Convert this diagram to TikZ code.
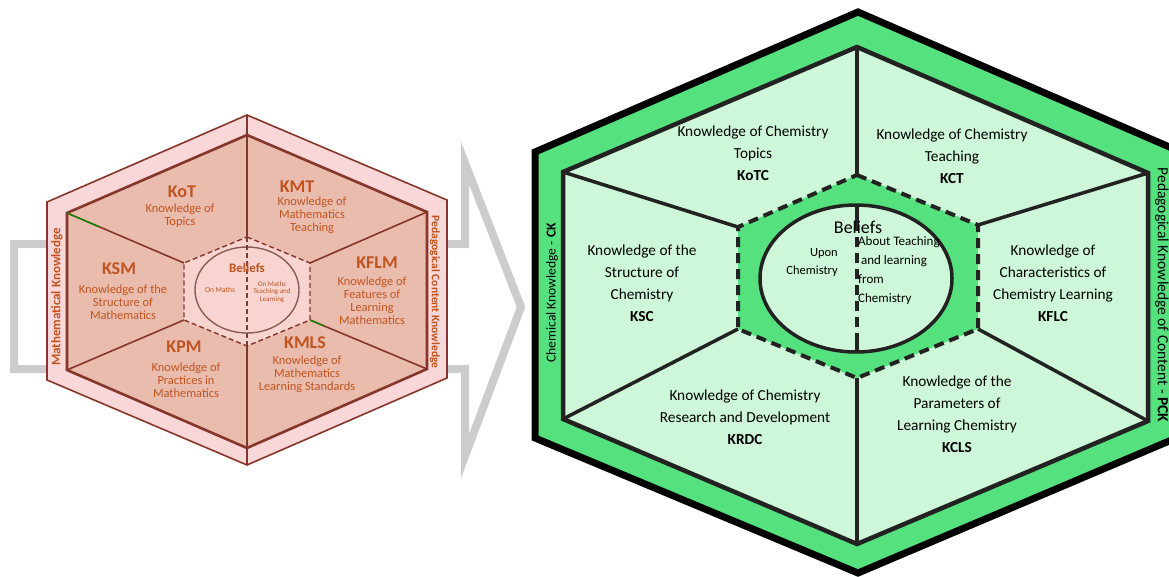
\documentclass[tikz,border=0pt]{standalone}
\usepackage{fontspec}
\usetikzlibrary{calc}
\setmainfont{Carlito}
\definecolor{arrowgray}{RGB}{204,204,204}
\definecolor{pinkband}{RGB}{249,214,216}
\definecolor{salmon}{RGB}{234,188,173}
\definecolor{centerpink}{RGB}{247,212,208}
\definecolor{brownline}{RGB}{133,54,42}
\definecolor{ellline}{RGB}{140,90,80}
\definecolor{ptext}{RGB}{192,84,30}
\definecolor{greenband}{RGB}{86,225,127}
\definecolor{lightgreen}{RGB}{206,246,216}
\definecolor{darkline}{RGB}{34,34,34}
\tikzset{
  ghead/.style={font=\fontsize{15.3}{22}\selectfont, align=center, text=black, inner sep=0pt},
  phead/.style={font=\fontsize{18}{20}\selectfont\bfseries, text=ptext, inner sep=0pt},
  pbody/.style={font=\fontsize{12.4}{13}\selectfont, align=center, text=ptext, inner sep=0pt},
  gspoke/.style={draw=darkline, line width=3.5pt},
  pspoke/.style={draw=brownline, line width=1.6pt},
}
\begin{document}
\begin{tikzpicture}[x=1pt,y=-1pt,line join=miter]
\useasboundingbox (0,0) rectangle (1169,576);
\clip (0,0) rectangle (1169,576);

% ---------- gray arrow ----------
\draw[arrowgray, line width=8pt] (14,244) -- (465,244) -- (465,163) -- (521,307) -- (465,456) -- (465,369) -- (14,369) -- cycle;

% ---------- pink (left) hexagon ----------
\coordinate (pOT) at (247,115);
\coordinate (pOUR) at (447,200);
\coordinate (pOLR) at (447,378);
\coordinate (pOB) at (247,465);
\coordinate (pOLL) at (47,380);
\coordinate (pOUL) at (47,202);
\coordinate (pIT) at (247,135);
\coordinate (pIUR) at (427,212);
\coordinate (pILR) at (427,369);
\coordinate (pIB) at (247,448);
\coordinate (pILL) at (67,370);
\coordinate (pIUL) at (67,213);
\coordinate (pCT) at (247,237);
\coordinate (pCUR) at (310,263);
\coordinate (pCLR) at (310,320);
\coordinate (pCB) at (247,346);
\coordinate (pCLL) at (184,320);
\coordinate (pCUL) at (184,263);

\filldraw[fill=pinkband, draw=brownline, line width=1.6pt] (pOT) -- (pOUR) -- (pOLR) -- (pOB) -- (pOLL) -- (pOUL) -- cycle;
\filldraw[fill=salmon, draw=brownline, line width=2.6pt] (pIT) -- (pIUR) -- (pILR) -- (pIB) -- (pILL) -- (pIUL) -- cycle;
\draw[pspoke] (pIUL) -- (pCUL);
\draw[pspoke] (pIUR) -- (pCUR);
\draw[pspoke] (pILL) -- (pCLL);
\draw[pspoke] (pILR) -- (pCLR);
\draw[brownline, line width=2.2pt] (pOT) -- (pCT);
\draw[brownline, line width=2.2pt] (pCB) -- (pOB);
\draw[green!55!black, line width=1.2pt] (pIUL) -- ($(pIUL)!0.28!(pCUL)$);
\draw[green!55!black, line width=1.2pt] (pCLR) -- ($(pCLR)!0.12!(pILR)$);
\filldraw[fill=centerpink, draw=brownline, line width=1.4pt, dash pattern=on 5pt off 3pt] (pCT) -- (pCUR) -- (pCLR) -- (pCB) -- (pCLL) -- (pCUL) -- cycle;
\filldraw[fill=centerpink, draw=ellline, line width=1.4pt] (247,290) ellipse [x radius=52, y radius=43];
\draw[brownline, line width=1.4pt, dash pattern=on 5pt off 3pt] (pCT) -- (pCB);

\node[phead] (kot) at (182,192) {KoT};
\node[pbody] (kotb) at (180,216) {Knowledge of\\Topics};
\node[phead] (kmt) at (297,187) {KMT};
\node[pbody] (kmtb) at (312,215) {Knowledge of\\Mathematics\\Teaching};
\node[phead] (ksm) at (119,269) {KSM};
\node[pbody] (ksmb) at (123,302.5) {Knowledge of the\\Structure of\\Mathematics};
\node[phead] (kflm) at (377,263) {KFLM};
\node[pbody] (kflmb) at (372,300.5) {Knowledge of\\Features of\\Learning\\Mathematics};
\node[phead] (kpm) at (184,347) {KPM};
\node[pbody] (kpmb) at (186,380) {Knowledge of\\Practices in\\Mathematics};
\node[phead] (kmls) at (305,343) {KMLS};
\node[pbody] (kmlsb) at (307,374) {Knowledge of\\Mathematics\\Learning Standards};
\node[font=\fontsize{13}{14}\selectfont\bfseries, text=ptext, inner sep=0pt] (pbel) at (247,268) {Beliefs};
\node[font=\fontsize{7.5}{8}\selectfont, text=ptext, inner sep=0pt] (ponm) at (220,290) {On Maths};
\node[font=\fontsize{7}{7.7}\selectfont, text=ptext, align=center, inner sep=0pt] (pont) at (272,292) {On Maths\\Teaching and\\Learning};
\node[rotate=90, font=\fontsize{13}{14}\selectfont\bfseries, text=ptext, inner sep=0pt] (pmk) at (57,297) {Mathematical Knowledge};
\node[rotate=-90, font=\fontsize{11.5}{13}\selectfont\bfseries, text=ptext, inner sep=0pt] (ppck) at (435,292) {Pedagogical Content Knowledge};

% ---------- green (right) hexagon ----------
\coordinate (gOT) at (858,12);
\coordinate (gOUR) at (1181,152);
\coordinate (gOLR) at (1181,436);
\coordinate (gOB) at (858,573);
\coordinate (gOLL) at (535,438);
\coordinate (gOUL) at (535,152);
\coordinate (gIT) at (857,47);
\coordinate (gIUR) at (1148,173);
\coordinate (gILR) at (1148,421);
\coordinate (gIB) at (857,544);
\coordinate (gILL) at (563,419);
\coordinate (gIUL) at (563,172);
\coordinate (gCT) at (857,175);
\coordinate (gCUR) at (978,225);
\coordinate (gCLR) at (978,329);
\coordinate (gCB) at (857,378);
\coordinate (gCLL) at (738,329);
\coordinate (gCUL) at (738,227);

\filldraw[fill=greenband, draw=black, line width=7pt] (gOT) -- (gOUR) -- (gOLR) -- (gOB) -- (gOLL) -- (gOUL) -- cycle;
\filldraw[fill=lightgreen, draw=darkline, line width=4.5pt] (gIT) -- (gIUR) -- (gILR) -- (gIB) -- (gILL) -- (gIUL) -- cycle;
\draw[gspoke] (gIUL) -- (gCUL);
\draw[gspoke] (gIUR) -- (gCUR);
\draw[gspoke] (gILL) -- (gCLL);
\draw[gspoke] (gILR) -- (gCLR);
\draw[gspoke] (gIT) -- (gCT);
\draw[gspoke] (gCB) -- (gIB);
\filldraw[fill=greenband, draw=darkline, line width=4pt, dash pattern=on 10pt off 6pt] (gCT) -- (gCUR) -- (gCLR) -- (gCB) -- (gCLL) -- (gCUL) -- cycle;
\filldraw[fill=lightgreen, draw=darkline, line width=3.5pt] (856,278.5) ellipse [x radius=96, y radius=73.5];
\draw[darkline, line width=3.5pt, dash pattern=on 26pt off 6pt on 10pt off 6pt on 10pt off 6pt on 10pt off 6pt on 10pt off 6pt on 10pt off 6pt on 10pt off 6pt on 20pt] (857,205) -- (857,352);

\node[ghead] (kotc) at (753,153.5) {Knowledge of Chemistry\\Topics\\\textbf{KoTC}};
\node[ghead] (kct) at (952,156.5) {Knowledge of Chemistry\\Teaching\\\textbf{KCT}};
\node[ghead] (ksc) at (642,283) {Knowledge of the\\Structure of\\Chemistry\\\textbf{KSC}};
\node[ghead] (kflc) at (1053,283) {Knowledge of\\Characteristics of\\Chemistry Learning\\\textbf{KFLC}};
\node[ghead] (krdc) at (745,417) {Knowledge of Chemistry\\Research and Development\\\textbf{KRDC}};
\node[ghead] (kcls) at (957,414) {Knowledge of the\\Parameters of\\Learning Chemistry\\\textbf{KCLS}};
\node[font=\fontsize{18}{20}\selectfont, inner sep=0pt] (gbel) at (858,227) {Beliefs};
\node[font=\fontsize{12.5}{18}\selectfont, align=right, anchor=east, inner sep=0pt] (upon) at (838,262) {Upon\\Chemistry};
\node[font=\fontsize{13}{19}\selectfont, align=left, anchor=west, inner sep=0pt] (about) at (858,271) {About Teaching\\\ and learning\\from\\Chemistry};
\node[rotate=90, font=\fontsize{13.6}{15}\selectfont, inner sep=0pt] (ck) at (552,293) {Chemical Knowledge - \textbf{CK}};
\node[rotate=-90, font=\fontsize{15.5}{17}\selectfont, inner sep=0pt] (pck) at (1162,295) {Pedagogical Knowledge of Content - \textbf{PCK}};
\end{tikzpicture}
\end{document}
